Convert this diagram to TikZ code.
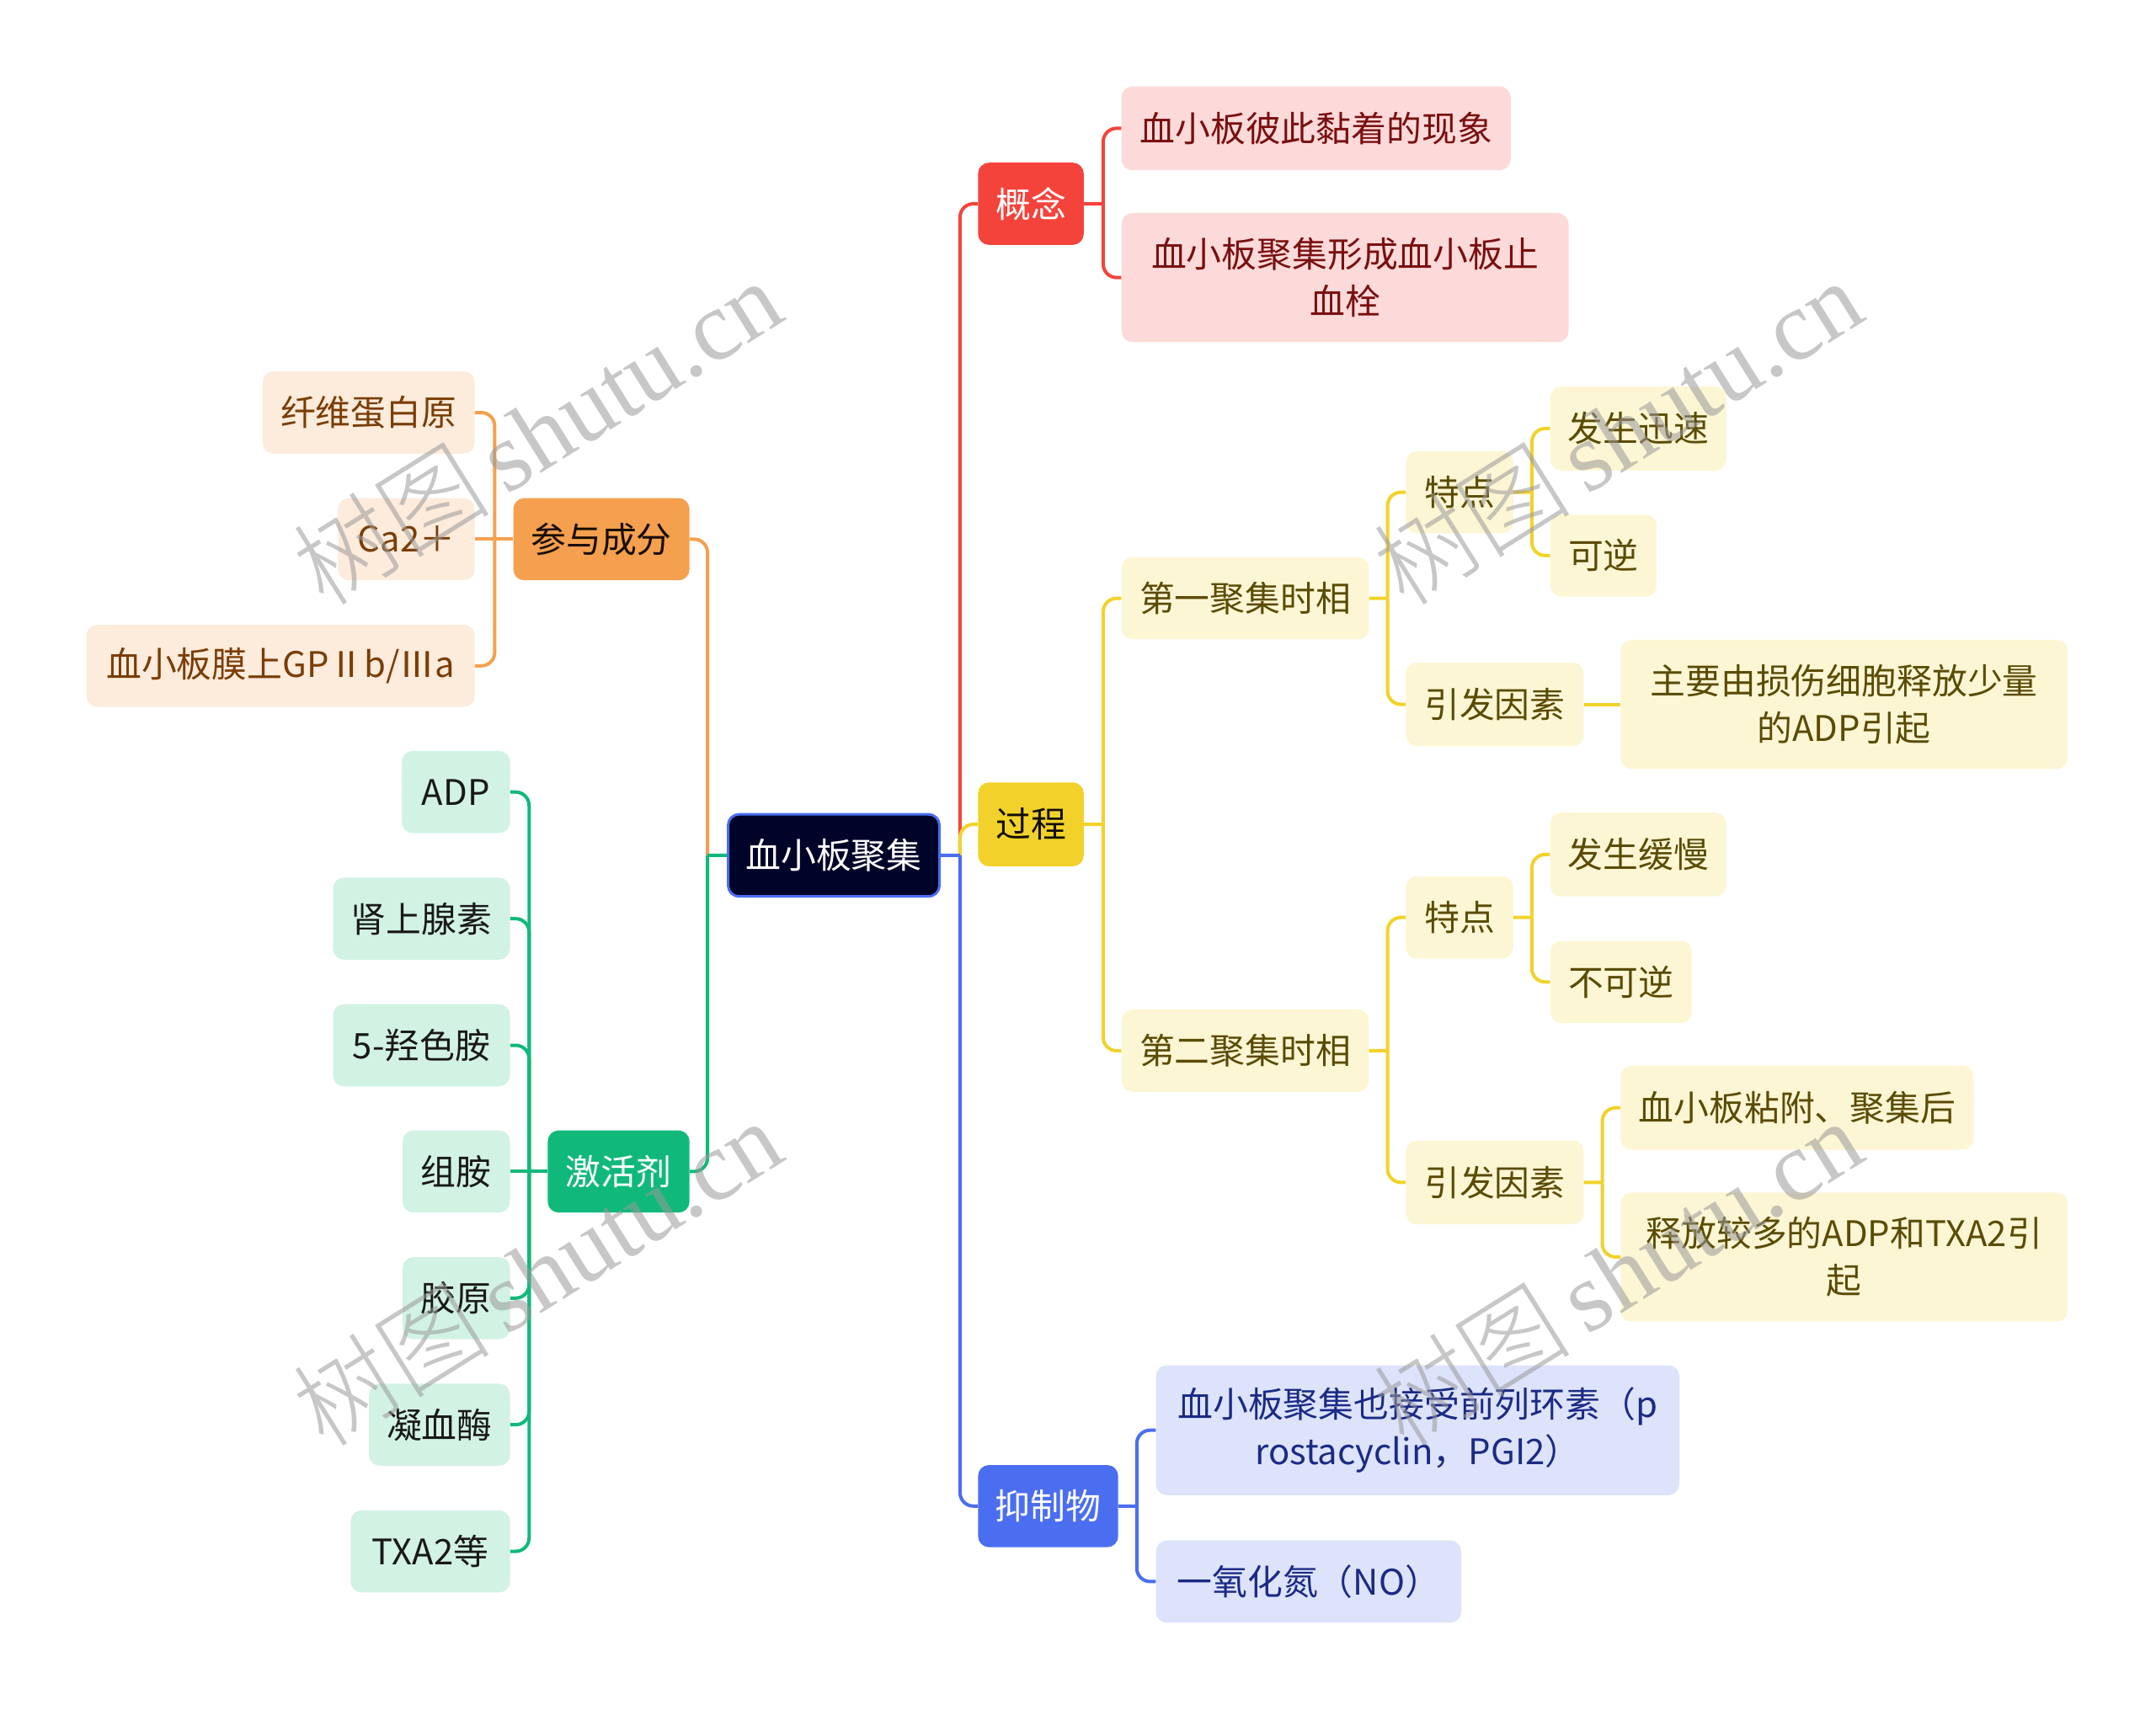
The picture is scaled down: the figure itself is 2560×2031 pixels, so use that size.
\documentclass[tikz,border=0pt]{standalone}
\usepackage{fontspec}
\setmainfont{Noto Sans CJK SC}
\newfontfamily\wmfont{Liberation Serif}
\newfontfamily\wmcjk{Noto Sans CJK SC Light}
\usetikzlibrary{calc}
\definecolor{cRed}{HTML}{F4433B}
\definecolor{cRedL}{HTML}{FDDADA}
\definecolor{cRedT}{HTML}{7A0F0F}
\definecolor{cYel}{HTML}{F2D22A}
\definecolor{cYelL}{HTML}{FDF6D4}
\definecolor{cYelT}{HTML}{5A4B05}
\definecolor{cBlu}{HTML}{4B6EF0}
\definecolor{cBluL}{HTML}{DCE3FB}
\definecolor{cBluT}{HTML}{1B2A85}
\definecolor{cOrg}{HTML}{F4A04F}
\definecolor{cOrgL}{HTML}{FDEBDC}
\definecolor{cOrgT}{HTML}{7A3D05}
\definecolor{cGrn}{HTML}{10B97A}
\definecolor{cGrnL}{HTML}{D2F2E4}
\definecolor{cRoot}{HTML}{000428}
\tikzset{
  bx/.style={rounded corners=13pt, inner sep=0pt, align=center, minimum height=98pt},
  cn/.style={line width=4pt, rounded corners=16pt},
  wm/.style={rotate=32, text=black!40, opacity=0.55, font=\fontsize{118}{118}\selectfont}
}
\begin{document}
\begin{tikzpicture}[x=1pt,y=-1pt,font=\fontsize{42}{56}\selectfont]
\useasboundingbox (0,0) rectangle (2560,2031);
\begin{scope}[scale=0.996, transform shape]
% root
\node[bx, fill=cRoot, draw=cBlu, line width=3pt, text=white, minimum width=252pt] (root) at (994,1020) {血小板聚集};
% 概念
\node[bx, fill=cRed, text=white, minimum width=126pt] (gn) at (1229,243) {概念};
\node[bx, fill=cRedL, text=cRedT, minimum width=464pt, minimum height=100pt] (gn1) at (1569,153) {血小板彼此黏着的现象};
\node[bx, fill=cRedL, text=cRedT, minimum width=533pt, minimum height=154pt] (gn2) at (1603.5,331) {血小板聚集形成血小板止\\血栓};
% 过程
\node[bx, fill=cYel, text=black!80!cYelT, minimum width=126pt, minimum height=100pt] (gc) at (1229,983) {过程};
\node[bx, fill=cYelL, text=cYelT, minimum width=295pt] (p1) at (1484.5,713.5) {第一聚集时相};
\node[bx, fill=cYelL, text=cYelT, minimum width=128pt] (p1a) at (1740,587) {特点};
\node[bx, fill=cYelL, text=cYelT, minimum width=210pt, minimum height=100pt] (p1a1) at (1953,511) {发生迅速};
\node[bx, fill=cYelL, text=cYelT, minimum width=127pt] (p1a2) at (1911.5,662.5) {可逆};
\node[bx, fill=cYelL, text=cYelT, minimum width=212pt, minimum height=100pt] (p1b) at (1782,840) {引发因素};
\node[bx, fill=cYelL, text=cYelT, minimum width=533pt, minimum height=154pt] (p1b1) at (2198.5,840) {主要由损伤细胞释放少量\\的ADP引起};
\node[bx, fill=cYelL, text=cYelT, minimum width=295pt] (p2) at (1484.5,1253) {第二聚集时相};
\node[bx, fill=cYelL, text=cYelT, minimum width=128pt] (p2a) at (1740,1094) {特点};
\node[bx, fill=cYelL, text=cYelT, minimum width=210pt, minimum height=100pt] (p2a1) at (1953,1019) {发生缓慢};
\node[bx, fill=cYelL, text=cYelT, minimum width=169pt] (p2a2) at (1932.5,1171) {不可逆};
\node[bx, fill=cYelL, text=cYelT, minimum width=212pt, minimum height=100pt] (p2b) at (1782,1410) {引发因素};
\node[bx, fill=cYelL, text=cYelT, minimum width=421pt, minimum height=100pt] (p2b1) at (2142.5,1321) {血小板粘附、聚集后};
\node[bx, fill=cYelL, text=cYelT, minimum width=533pt, minimum height=154pt] (p2b2) at (2198.5,1499) {释放较多的ADP和TXA2引\\起};
% 抑制物
\node[bx, fill=cBlu, text=white, minimum width=167pt] (yz) at (1249.5,1796) {抑制物};
\node[bx, fill=cBluL, text=cBluT, minimum width=624pt, minimum height=155pt] (yz1) at (1690,1705.5) {血小板聚集也接受前列环素（p\\rostacyclin，PGI2）};
\node[bx, fill=cBluL, text=cBluT, minimum width=364pt] (yz2) at (1560,1886) {一氧化氮（NO）};
% 参与成分
\node[bx, fill=cOrg, text=black!80!cOrgT, minimum width=210pt] (cy) at (717,643) {参与成分};
\node[bx, fill=cOrgL, text=cOrgT, minimum width=253pt] (cy1) at (439.5,492) {纤维蛋白原};
\node[bx, fill=cOrgL, text=cOrgT, minimum width=163pt] (cy2) at (484.5,643) {Ca2＋};
\node[bx, fill=cOrgL, text=cOrgT, minimum width=463pt] (cy3) at (334.5,794) {血小板膜上GPⅡb/Ⅲa};
% 激活剂
\node[bx, fill=cGrn, text=white, minimum width=169pt] (jh) at (737.5,1397) {激活剂};
\node[bx, fill=cGrnL, text=black!90, minimum width=129pt] (jh1) at (543.5,944.5) {ADP};
\node[bx, fill=cGrnL, text=black!90, minimum width=211pt] (jh2) at (502.5,1095.5) {肾上腺素};
\node[bx, fill=cGrnL, text=black!90, minimum width=211pt] (jh3) at (502.5,1246.5) {5-羟色胺};
\node[bx, fill=cGrnL, text=black!90, minimum width=128pt] (jh4) at (544,1397) {组胺};
\node[bx, fill=cGrnL, text=black!90, minimum width=128pt] (jh5) at (544,1548) {胶原};
\node[bx, fill=cGrnL, text=black!90, minimum width=168pt] (jh6) at (524,1699) {凝血酶};
\node[bx, fill=cGrnL, text=black!90, minimum width=190pt] (jh7) at (513,1850) {TXA2等};
% ---- connectors: root right
\coordinate (rR) at ($(root.east)+(23,0)$);
\draw[cn, cRed] (rR) -- (rR |- gn.west) -- (gn.west);
\draw[cn, cYel] (rR) -- (rR |- gc.west) -- (gc.west);
\draw[cn, cBlu] (rR) -- (rR |- yz.west) -- (yz.west);
\draw[cn, cBlu] (root.east) -- (rR);
% root left
\coordinate (rL) at ($(root.west)+(-23,0)$);
\draw[cn, cOrg] (rL) -- (rL |- cy.east) -- (cy.east);
\draw[cn, cGrn] (rL) -- (rL |- jh.east) -- (jh.east);
\draw[cn, cGrn] (root.west) -- (rL);
% 概念
\coordinate (tg) at ($(gn.east)+(23,0)$);
\draw[cn, cRed] (gn.east) -- (tg);
\draw[cn, cRed] (tg) -- (tg |- gn1.west) -- (gn1.west);
\draw[cn, cRed] (tg) -- (tg |- gn2.west) -- (gn2.west);
% 过程
\coordinate (tc) at ($(gc.east)+(23,0)$);
\draw[cn, cYel] (gc.east) -- (tc);
\draw[cn, cYel] (tc) -- (tc |- p1.west) -- (p1.west);
\draw[cn, cYel] (tc) -- (tc |- p2.west) -- (p2.west);
\coordinate (t1) at ($(p1.east)+(22,0)$);
\draw[cn, cYel] (p1.east) -- (t1);
\draw[cn, cYel] (t1) -- (t1 |- p1a.west) -- (p1a.west);
\draw[cn, cYel] (t1) -- (t1 |- p1b.west) -- (p1b.west);
\coordinate (t1a) at ($(p1a.east)+(22,0)$);
\draw[cn, cYel] (p1a.east) -- (t1a);
\draw[cn, cYel] (t1a) -- (t1a |- p1a1.west) -- (p1a1.west);
\draw[cn, cYel] (t1a) -- (t1a |- p1a2.west) -- (p1a2.west);
\draw[cn, cYel] (p1b.east) -- (p1b1.west);
\coordinate (t2) at ($(p2.east)+(22,0)$);
\draw[cn, cYel] (p2.east) -- (t2);
\draw[cn, cYel] (t2) -- (t2 |- p2a.west) -- (p2a.west);
\draw[cn, cYel] (t2) -- (t2 |- p2b.west) -- (p2b.west);
\coordinate (t2a) at ($(p2a.east)+(22,0)$);
\draw[cn, cYel] (p2a.east) -- (t2a);
\draw[cn, cYel] (t2a) -- (t2a |- p2a1.west) -- (p2a1.west);
\draw[cn, cYel] (t2a) -- (t2a |- p2a2.west) -- (p2a2.west);
\coordinate (t2b) at ($(p2b.east)+(22,0)$);
\draw[cn, cYel] (p2b.east) -- (t2b);
\draw[cn, cYel] (t2b) -- (t2b |- p2b1.west) -- (p2b1.west);
\draw[cn, cYel] (t2b) -- (t2b |- p2b2.west) -- (p2b2.west);
% 抑制物
\coordinate (ty) at ($(yz.east)+(22,0)$);
\draw[cn, cBlu] (yz.east) -- (ty);
\draw[cn, cBlu] (ty) -- (ty |- yz1.west) -- (yz1.west);
\draw[cn, cBlu] (ty) -- (ty |- yz2.west) -- (yz2.west);
% 参与成分
\coordinate (tcy) at ($(cy.west)+(-22,0)$);
\draw[cn, cOrg] (cy.west) -- (cy2.east);
\draw[cn, cOrg] (tcy) -- (tcy |- cy1.east) -- (cy1.east);
\draw[cn, cOrg] (tcy) -- (tcy |- cy3.east) -- (cy3.east);
% 激活剂
\coordinate (tj) at ($(jh.west)+(-22,0)$);
\draw[cn, cGrn] (jh.west) -- (jh4.east);
\foreach \k in {1,2,3,5,6,7}{
  \draw[cn, cGrn] (tj) -- (tj |- jh\k.east) -- (jh\k.east);
}
% watermarks
\node[wm] (wm1) at (640,515) {\wmcjk 树图\,\wmfont shutu.cn};
\node[wm] (wm2) at (1928,515) {\wmcjk 树图\,\wmfont shutu.cn};
\node[wm] (wm3) at (640,1517) {\wmcjk 树图\,\wmfont shutu.cn};
\node[wm] (wm4) at (1928,1517) {\wmcjk 树图\,\wmfont shutu.cn};
\end{scope}
\end{tikzpicture}
\end{document}
